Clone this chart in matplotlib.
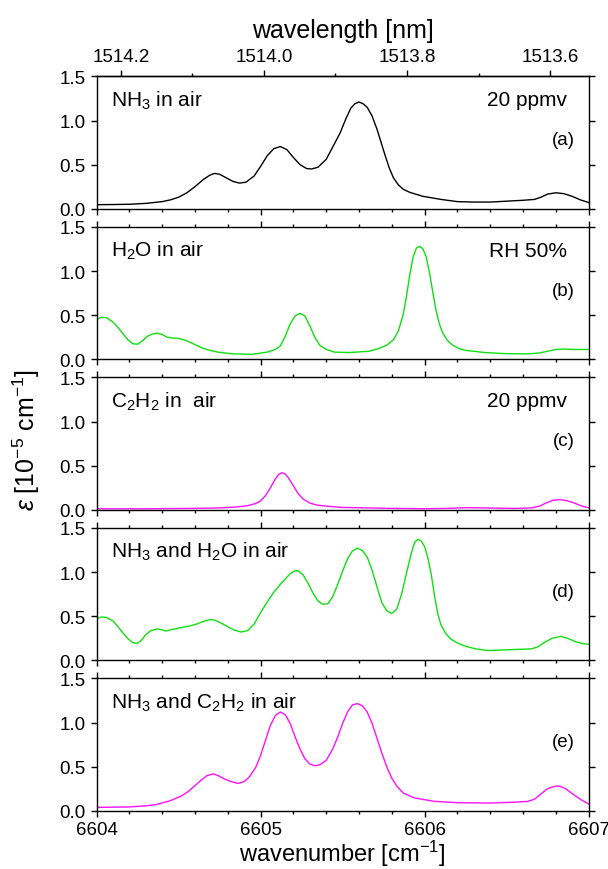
import matplotlib
matplotlib.use('Agg')
import matplotlib.pyplot as plt
import numpy as np
from matplotlib.ticker import MultipleLocator, FixedLocator, FormatStrFormatter

plt.rcParams['font.family'] = ['Liberation Sans', 'DejaVu Sans']
plt.rcParams['mathtext.fontset'] = 'custom'
plt.rcParams['mathtext.rm'] = 'Liberation Sans'
plt.rcParams['mathtext.it'] = 'Liberation Sans:italic'
plt.rcParams['mathtext.default'] = 'regular'
plt.rcParams['axes.linewidth'] = 1.0

# (a) NH3 in air, 20 ppmv
wn_a = [6604.00, 6604.10, 6604.20, 6604.30, 6604.40, 6604.45, 6604.50, 6604.55,
        6604.60, 6604.65, 6604.69, 6604.72, 6604.75, 6604.79, 6604.83, 6604.87,
        6604.91, 6604.96, 6605.00, 6605.04, 6605.08, 6605.12, 6605.16, 6605.20,
        6605.24, 6605.28, 6605.31, 6605.35, 6605.40, 6605.44, 6605.485, 6605.52,
        6605.55, 6605.575, 6605.60, 6605.625, 6605.65, 6605.68, 6605.71, 6605.735,
        6605.76, 6605.785, 6605.81, 6605.84, 6605.87, 6605.91, 6605.99, 6606.10,
        6606.20, 6606.30, 6606.40, 6606.50, 6606.60, 6606.67, 6606.71, 6606.75,
        6606.80, 6606.85, 6606.90, 6606.95, 6607.00]
eps_a = [0.045, 0.047, 0.05, 0.06, 0.08, 0.10, 0.13, 0.18,
         0.25, 0.33, 0.38, 0.40, 0.39, 0.35, 0.31, 0.29,
         0.30, 0.37, 0.48, 0.60, 0.68, 0.705, 0.67, 0.58,
         0.50, 0.455, 0.45, 0.47, 0.56, 0.70, 0.86, 1.02,
         1.14, 1.19, 1.21, 1.19, 1.15, 1.05, 0.90, 0.75,
         0.60, 0.46, 0.35, 0.27, 0.22, 0.185, 0.14, 0.105,
         0.08, 0.075, 0.075, 0.085, 0.095, 0.105, 0.13, 0.165,
         0.18, 0.17, 0.14, 0.10, 0.07]

# (b) H2O in air, RH 50%
wn_b = [6604.00, 6604.03, 6604.06, 6604.10, 6604.13, 6604.16, 6604.19, 6604.22,
        6604.25, 6604.28, 6604.31, 6604.34, 6604.37, 6604.40, 6604.43, 6604.46,
        6604.50, 6604.53, 6604.56, 6604.60, 6604.64, 6604.69, 6604.74, 6604.83,
        6604.95, 6605.04, 6605.09, 6605.12, 6605.15, 6605.18, 6605.21, 6605.24,
        6605.27, 6605.30, 6605.33, 6605.36, 6605.40, 6605.45, 6605.54, 6605.66,
        6605.72, 6605.77, 6605.81, 6605.84, 6605.87, 6605.89, 6605.91, 6605.93,
        6605.95, 6605.97, 6605.99, 6606.01, 6606.03, 6606.05, 6606.07, 6606.09,
        6606.11, 6606.14, 6606.17, 6606.21, 6606.25, 6606.37, 6606.49, 6606.63,
        6606.70, 6606.75, 6606.80, 6606.85, 6606.91, 6607.00]
eps_b = [0.45, 0.475, 0.47, 0.42, 0.36, 0.29, 0.22, 0.175,
         0.17, 0.21, 0.26, 0.285, 0.295, 0.28, 0.25, 0.24,
         0.235, 0.22, 0.20, 0.165, 0.13, 0.10, 0.08, 0.06,
         0.056, 0.08, 0.11, 0.15, 0.26, 0.40, 0.49, 0.52,
         0.49, 0.38, 0.25, 0.16, 0.11, 0.08, 0.075, 0.09,
         0.12, 0.16, 0.22, 0.32, 0.51, 0.72, 0.96, 1.16,
         1.26, 1.28, 1.25, 1.16, 0.98, 0.76, 0.55, 0.40,
         0.30, 0.21, 0.16, 0.12, 0.10, 0.075, 0.063, 0.06,
         0.07, 0.09, 0.11, 0.115, 0.11, 0.11]

# (c) C2H2 in air, 20 ppmv
wn_c = [6604.00, 6604.30, 6604.60, 6604.75, 6604.85, 6604.92, 6604.97, 6605.00,
        6605.03, 6605.06, 6605.09, 6605.11, 6605.13, 6605.15, 6605.17, 6605.20,
        6605.23, 6605.26, 6605.30, 6605.35, 6605.49, 6605.78, 6606.01, 6606.15,
        6606.25, 6606.37, 6606.55, 6606.65, 6606.70, 6606.74, 6606.78, 6606.82,
        6606.86, 6606.90, 6606.94, 6606.97, 6607.00]
eps_c = [0.01, 0.01, 0.015, 0.02, 0.03, 0.045, 0.07, 0.10,
         0.16, 0.25, 0.35, 0.40, 0.42, 0.405, 0.36, 0.27,
         0.18, 0.12, 0.075, 0.05, 0.026, 0.015, 0.011, 0.015,
         0.023, 0.02, 0.014, 0.02, 0.04, 0.075, 0.105, 0.115,
         0.105, 0.085, 0.055, 0.035, 0.023]

# (d) NH3 and H2O in air
wn_d = [6604.00, 6604.03, 6604.06, 6604.10, 6604.13, 6604.16, 6604.19, 6604.22,
        6604.245, 6604.27, 6604.30, 6604.33, 6604.37, 6604.40, 6604.42, 6604.45,
        6604.49, 6604.53, 6604.57, 6604.61, 6604.65, 6604.69, 6604.72, 6604.76,
        6604.80, 6604.84, 6604.88, 6604.92, 6604.96, 6605.00, 6605.04, 6605.08,
        6605.12, 6605.15, 6605.18, 6605.21, 6605.23, 6605.26, 6605.29, 6605.32,
        6605.35, 6605.38, 6605.41, 6605.44, 6605.47, 6605.50, 6605.53, 6605.56,
        6605.59, 6605.62, 6605.65, 6605.68, 6605.71, 6605.74, 6605.77, 6605.80,
        6605.83, 6605.86, 6605.89, 6605.92, 6605.94, 6605.96, 6605.98, 6606.00,
        6606.02, 6606.04, 6606.06, 6606.08, 6606.10, 6606.13, 6606.16, 6606.20,
        6606.25, 6606.32, 6606.39, 6606.53, 6606.65, 6606.69, 6606.73, 6606.78,
        6606.83, 6606.87, 6606.92, 6606.96, 6607.00]
eps_d = [0.475, 0.49, 0.485, 0.445, 0.38, 0.31, 0.245, 0.20,
         0.19, 0.22, 0.29, 0.335, 0.355, 0.345, 0.33, 0.345,
         0.36, 0.375, 0.39, 0.41, 0.44, 0.46, 0.455, 0.42,
         0.38, 0.34, 0.32, 0.335, 0.41, 0.54, 0.66, 0.77,
         0.86, 0.92, 0.98, 1.015, 1.015, 0.965, 0.87, 0.76,
         0.67, 0.635, 0.64, 0.72, 0.86, 1.01, 1.15, 1.24,
         1.27, 1.245, 1.17, 1.02, 0.83, 0.65, 0.56, 0.53,
         0.58, 0.75, 0.99, 1.22, 1.34, 1.37, 1.35, 1.29,
         1.16, 0.98, 0.74, 0.53, 0.40, 0.30, 0.24, 0.195,
         0.158, 0.125, 0.11, 0.12, 0.128, 0.15, 0.20, 0.25,
         0.27, 0.25, 0.21, 0.19, 0.18]

# (e) NH3 and C2H2 in air
wn_e = [6604.00, 6604.19, 6604.30, 6604.36, 6604.45, 6604.52, 6604.56, 6604.60,
        6604.64, 6604.67, 6604.71, 6604.74, 6604.78, 6604.82, 6604.86, 6604.90,
        6604.93, 6604.97, 6605.00, 6605.03, 6605.06, 6605.09, 6605.12, 6605.15,
        6605.18, 6605.21, 6605.24, 6605.27, 6605.30, 6605.33, 6605.36, 6605.40,
        6605.44, 6605.47, 6605.50, 6605.53, 6605.56, 6605.59, 6605.62, 6605.65,
        6605.68, 6605.71, 6605.74, 6605.77, 6605.80, 6605.83, 6605.87, 6605.94,
        6606.06, 6606.20, 6606.39, 6606.53, 6606.63, 6606.67, 6606.71, 6606.75,
        6606.79, 6606.82, 6606.86, 6606.90, 6606.95, 6607.00]
eps_e = [0.038, 0.042, 0.055, 0.068, 0.114, 0.17, 0.22, 0.285,
         0.35, 0.395, 0.418, 0.40, 0.36, 0.33, 0.31, 0.33,
         0.38, 0.49, 0.627, 0.80, 0.97, 1.08, 1.12, 1.09,
         0.99, 0.84, 0.70, 0.59, 0.53, 0.51, 0.52, 0.57,
         0.70, 0.835, 0.99, 1.12, 1.20, 1.215, 1.19, 1.12,
         0.99, 0.82, 0.65, 0.494, 0.37, 0.28, 0.20, 0.144,
         0.106, 0.091, 0.087, 0.095, 0.106, 0.13, 0.19, 0.25,
         0.275, 0.28, 0.25, 0.195, 0.13, 0.076]

green = '#10e010'
magenta = '#ff10ff'

panels = [
    (wn_a, eps_a, 'black', r'NH$_3$ in air', '20 ppmv', '(a)'),
    (wn_b, eps_b, green, r'H$_2$O in air', 'RH 50%', '(b)'),
    (wn_c, eps_c, magenta, r'C$_2$H$_2$ in  air', '20 ppmv', '(c)'),
    (wn_d, eps_d, green, r'NH$_3$ and H$_2$O in air', '', '(d)'),
    (wn_e, eps_e, magenta, r'NH$_3$ and C$_2$H$_2$ in air', '', '(e)'),
]

fig = plt.figure(figsize=(6.08, 8.70), dpi=100)
left, width, height = 0.159, 0.809, 0.152
axes = []
for i, (wn, eps, col, name, cond, tag) in enumerate(panels):
    bottom = 0.759 - 0.173 * i
    ax = fig.add_axes([left, bottom, width, height])
    ax.plot(wn, eps, color=col, lw=1.0)
    ax.set_xlim(6604, 6607)
    ax.set_ylim(0, 1.5)
    ax.xaxis.set_major_locator(MultipleLocator(1))
    ax.xaxis.set_minor_locator(MultipleLocator(0.2))
    ax.yaxis.set_major_locator(MultipleLocator(0.5))
    ax.yaxis.set_major_formatter(FormatStrFormatter('%.1f'))
    ax.tick_params(which='both', direction='out', top=(i > 0), right=True,
                   labelsize=13.5, width=1.0)
    ax.tick_params(which='major', length=4.5)
    ax.tick_params(which='minor', length=2.5)
    ax.tick_params(axis='x', labelbottom=(i == 4))
    ax.text(0.03, 0.825, name, transform=ax.transAxes, fontsize=15,
            ha='left', va='center')
    if cond:
        ax.text(0.957, 0.825, cond, transform=ax.transAxes, fontsize=15,
                ha='right', va='center')
    ax.text(0.972, 0.52, tag, transform=ax.transAxes, fontsize=13.5,
            ha='right', va='center')
    axes.append(ax)

axes[-1].set_xlabel(r'wavenumber [cm$^{-1}$]', fontsize=17, labelpad=0)
axes[-1].tick_params(axis='x', pad=3)

# wavelength scale on top of the first panel
sec = axes[0].secondary_xaxis('top', functions=(lambda x: 1e7 / x, lambda x: 1e7 / x))
sec.xaxis.set_major_locator(FixedLocator([1514.2, 1514.0, 1513.8, 1513.6]))
sec.xaxis.set_minor_locator(FixedLocator([1514.1, 1513.9, 1513.7]))
sec.xaxis.set_major_formatter(FormatStrFormatter('%.1f'))
sec.tick_params(which='both', direction='out', labelsize=13.5, width=1.0)
sec.tick_params(which='major', length=4.5)
sec.tick_params(which='minor', length=2.5)
sec.set_xlabel('wavelength [nm]', fontsize=18, labelpad=8)

fig.text(0.044, 0.494, r'$\mathit{\varepsilon}$ [10$^{-5}$ cm$^{-1}$]',
         rotation=90, ha='center', va='center', fontsize=18)

fig.savefig('out.png', dpi=100)
